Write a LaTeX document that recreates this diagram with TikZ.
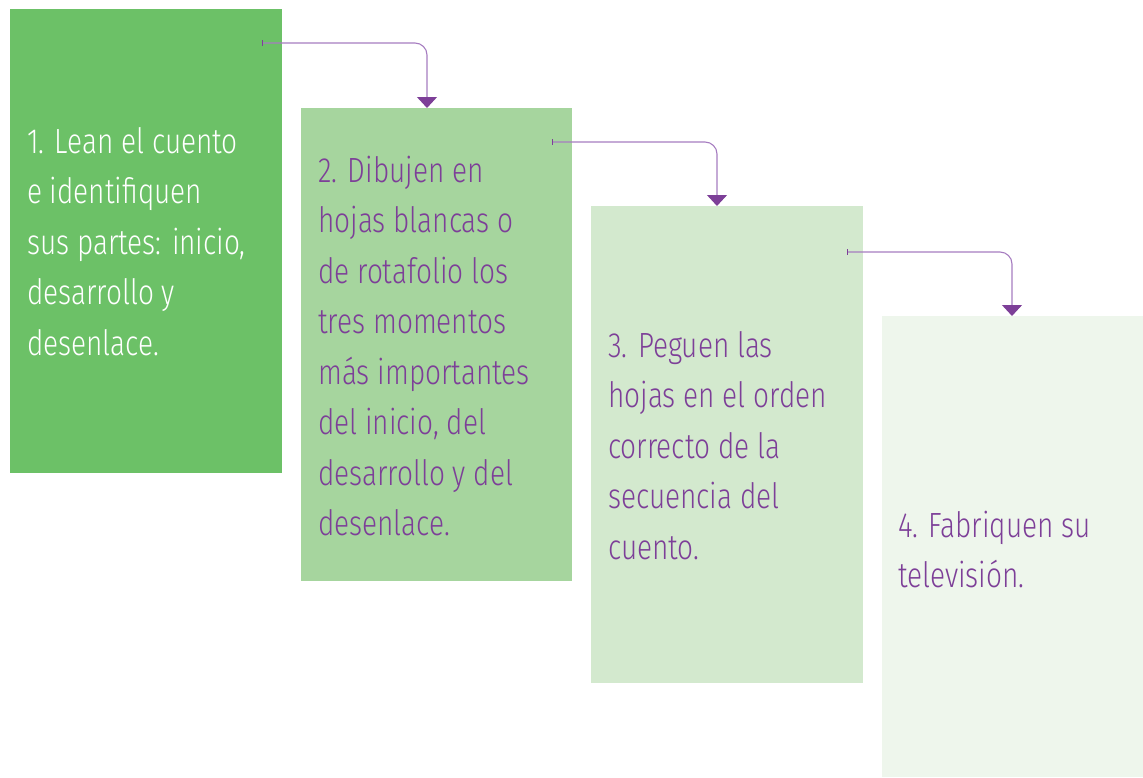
\documentclass[tikz,border=0pt]{standalone}
\usepackage{fontspec}
\setmainfont{Fira Sans}[UprightFont=* Light, FakeStretch=0.80]
\usetikzlibrary{arrows.meta,calc}
\definecolor{gA}{HTML}{6CC167}
\definecolor{gB}{HTML}{A6D59E}
\definecolor{gC}{HTML}{D3E9CE}
\definecolor{gD}{HTML}{EEF6EC}
\definecolor{purp}{HTML}{7D3F98}
\definecolor{lpurp}{HTML}{A67CC0}
\begin{document}
\begin{tikzpicture}[x=1pt,y=-1pt,
  box/.style={draw=none,anchor=north west,inner sep=0pt,outer sep=0pt},
  txt/.style={anchor=base west,inner sep=0pt,align=left,font=\fontsize{35}{50.5}\selectfont},
  link/.style={draw=lpurp,line width=1.1pt,rounded corners=12pt,-{Triangle[width=20pt,length=11pt,color=purp,fill=purp]}},
  startbar/.style={draw=purp,line width=0.8pt}]
\useasboundingbox (0,0) rectangle (1143,777);
\node[box,fill=gA,minimum width=272pt,minimum height=464pt] (b1) at (10,9) {};
\node[box,fill=gB,minimum width=271pt,minimum height=473pt] (b2) at (301,108) {};
\node[box,fill=gC,minimum width=272pt,minimum height=477pt] (b3) at (591,206) {};
\node[box,fill=gD,minimum width=261pt,minimum height=461pt] (b4) at (882,316) {};
\node[txt,text=white] (t1) at (27,355) {1. Lean el cuento\\e identifiquen\\sus partes: inicio,\\desarrollo y\\desenlace.};
\node[txt,text=purp] (t2) at (318,535.5) {2. Dibujen en\\hojas blancas o\\de rotafolio los\\tres momentos\\más importantes\\del inicio, del\\desarrollo y del\\desenlace.};
\node[txt,text=purp] (t3) at (608,559) {3. Peguen las\\hojas en el orden\\correcto de la\\secuencia del\\cuento.};
\node[txt,text=purp] (t4) at (898,587.5) {4. Fabriquen su\\televisión.};
\coordinate (s1) at ($(b1.north east)+(-20,34)$);
\coordinate (s2) at ($(b2.north east)+(-20,34)$);
\coordinate (s3) at ($(b3.north east)+(-16,46)$);
\coordinate (e2) at ($(b2.north west)+(126,0)$);
\coordinate (e3) at ($(b3.north west)+(126,0)$);
\coordinate (e4) at ($(b4.north west)+(130,0)$);
\draw[link] (s1) -| (e2);
\draw[link] (s2) -| (e3);
\draw[link] (s3) -| (e4);
\foreach \s in {s1,s2,s3} \draw[startbar] ($(\s)+(0,-3)$) -- ($(\s)+(0,3)$);
\end{tikzpicture}
\end{document}
